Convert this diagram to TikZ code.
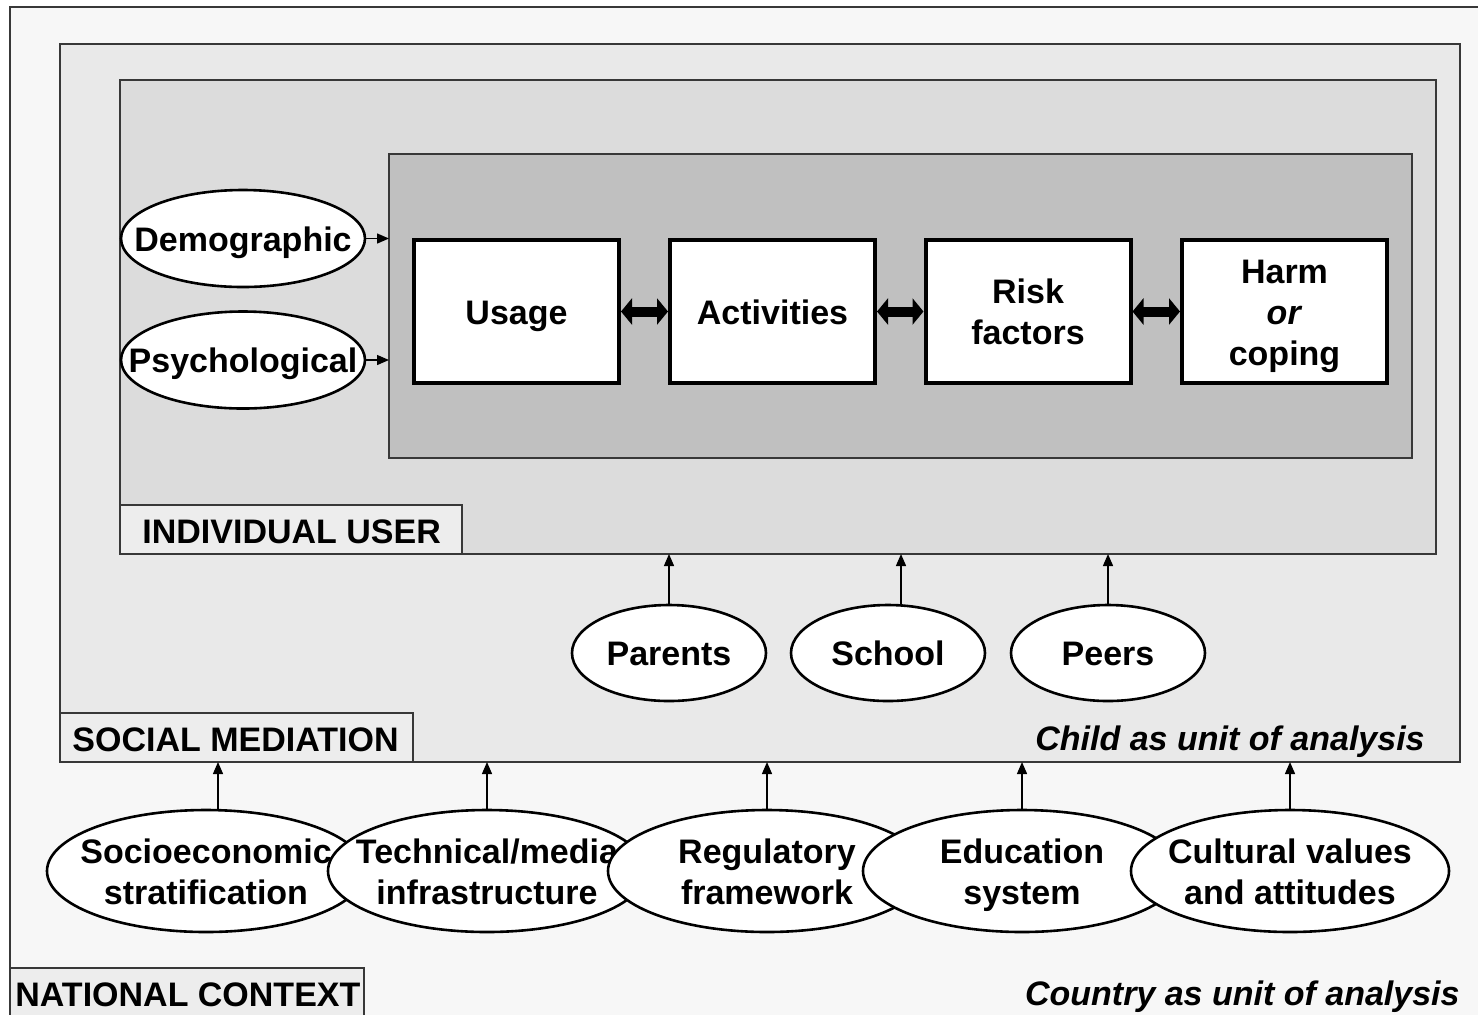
\documentclass[tikz,border=0pt]{standalone}
\usepackage{fontspec}
\setmainfont{Liberation Sans}
\usetikzlibrary{arrows.meta,shapes.geometric}
\definecolor{outerfill}{HTML}{F7F7F7}
\definecolor{socfill}{HTML}{E9E9E9}
\definecolor{indfill}{HTML}{DCDCDC}
\definecolor{innfill}{HTML}{C0C0C0}
\definecolor{labfill}{HTML}{EDEDED}
\definecolor{framecol}{HTML}{383838}
\newcommand{\ctext}[1]{\makebox[0pt]{\raisebox{0pt}[\height][\dimexpr\depth-4.5pt\relax]{\begin{tabular}{@{}c@{}}#1\end{tabular}}}}
\begin{document}
\begin{tikzpicture}[x=0.5pt,y=-0.5pt,
  txt/.style={font=\fontsize{17}{20.5}\selectfont\bfseries},
  frame/.style={draw=framecol,line width=0.85pt,rectangle,inner sep=0pt,outer sep=0pt,anchor=north west},
  lab/.style={frame,fill=labfill},
  labtext/.style={anchor=west,inner sep=0pt,font=\fontsize{17}{20}\selectfont\bfseries},
  flowbox/.style={draw=black,fill=white,line width=2pt,rectangle,minimum width=102.5pt,minimum height=71.5pt,inner sep=0pt,outer sep=0pt,txt},
  oval/.style={draw=black,fill=white,line width=1.3pt,ellipse,inner sep=0pt,outer sep=0pt,txt},
  smalloval/.style={oval,minimum width=122pt,minimum height=48.5pt},
  midoval/.style={oval,minimum width=97pt,minimum height=48pt},
  bigoval/.style={oval,minimum width=159pt,minimum height=61pt},
  thinarrow/.style={-{Triangle[length=6pt,width=5pt]},line width=0.7pt},
  bigarrow/.style={{Triangle[length=5.5pt,width=13pt]}-{Triangle[length=5.5pt,width=13pt]},line width=5pt,shorten <=1pt,shorten >=1pt},
  unittext/.style={anchor=east,inner sep=0pt,font=\fontsize{17}{20}\selectfont\bfseries\itshape},
]
\useasboundingbox (0,0) rectangle (1478,1014);
\begin{scope}
\clip (0,0) rectangle (1478,1014);
\fill[white] (0,0) rectangle (1478,1014);
\draw[draw=framecol,line width=0.85pt,fill=outerfill] (10,7) rectangle (1520,1060);
\node[lab,minimum width=177pt,minimum height=40pt] (nclab) at (10,968) {};
\end{scope}
\node[labtext] (nctext) at (15,995) {NATIONAL CONTEXT};
\node[unittext] (countrytext) at (1460,996.5) {Country as unit of analysis};

% social mediation
\node[frame,fill=socfill,minimum width=700pt,minimum height=359pt] (soc) at (60,44) {};
\node[lab,minimum width=176.5pt,minimum height=24.5pt] (smlab) at (60,713) {};
\node[labtext] (smtext) at (72,739.5) {SOCIAL MEDIATION};
\node[unittext] (childtext) at (1425,742) {Child as unit of analysis};

% individual user
\node[frame,fill=indfill,minimum width=658pt,minimum height=237pt] (ind) at (120,80) {};
\node[lab,minimum width=171pt,minimum height=24.5pt] (iulab) at (120,505) {};
\node[labtext] (iutext) at (142,531.5) {INDIVIDUAL USER};

% inner
\node[frame,fill=innfill,minimum width=511.5pt,minimum height=152pt] (inn) at (389,154) {};

% flow boxes
\node[flowbox] (usage) at (516.5,311.5) {\ctext{Usage}};
\node[flowbox] (act) at (772.5,311.5) {\ctext{Activities}};
\node[flowbox] (risk) at (1028,311.5) {\ctext{Risk\\factors}};
\node[flowbox] (harm) at (1284.5,311.5) {\ctext{Harm\\\textit{or}\\coping}};
\draw[bigarrow] (usage.east) -- (act.west);
\draw[bigarrow] (act.east) -- (risk.west);
\draw[bigarrow] (risk.east) -- (harm.west);

% individual factors
\node[smalloval] (demo) at (243,238.5) {\ctext{Demographic}};
\node[smalloval] (psych) at (243,360) {\ctext{Psychological}};
\draw[thinarrow] (demo.east) -- (demo.east -| inn.west);
\draw[thinarrow] (psych.east) -- (psych.east -| inn.west);

% mediators
\node[midoval] (par) at (669,653) {\ctext{Parents}};
\node[midoval] (sch) at (888,653) {\ctext{School}};
\node[midoval] (peer) at (1108,653) {\ctext{Peers}};
\coordinate (schtgt) at (901,554);
\draw[thinarrow] (par.north) -- (par.north |- ind.south);
\draw[thinarrow] (sch.north -| schtgt) -- (schtgt);
\draw[thinarrow] (peer.north) -- (peer.north |- ind.south);

% national factors
\node[bigoval] (se) at (206,871) {\ctext{Socioeconomic\\stratification}};
\node[bigoval] (tech) at (487,871) {\ctext{Technical/media\\infrastructure}};
\node[bigoval] (reg) at (767,871) {\ctext{Regulatory\\framework}};
\node[bigoval] (edu) at (1022,871) {\ctext{Education\\system}};
\node[bigoval] (cult) at (1290,871) {\ctext{Cultural values\\and attitudes}};
\coordinate (setgt) at (218,762);
\draw[thinarrow] (se.north -| setgt) -- (setgt);
\draw[thinarrow] (tech.north) -- (tech.north |- soc.south);
\draw[thinarrow] (reg.north) -- (reg.north |- soc.south);
\draw[thinarrow] (edu.north) -- (edu.north |- soc.south);
\draw[thinarrow] (cult.north) -- (cult.north |- soc.south);
\end{tikzpicture}
\end{document}
